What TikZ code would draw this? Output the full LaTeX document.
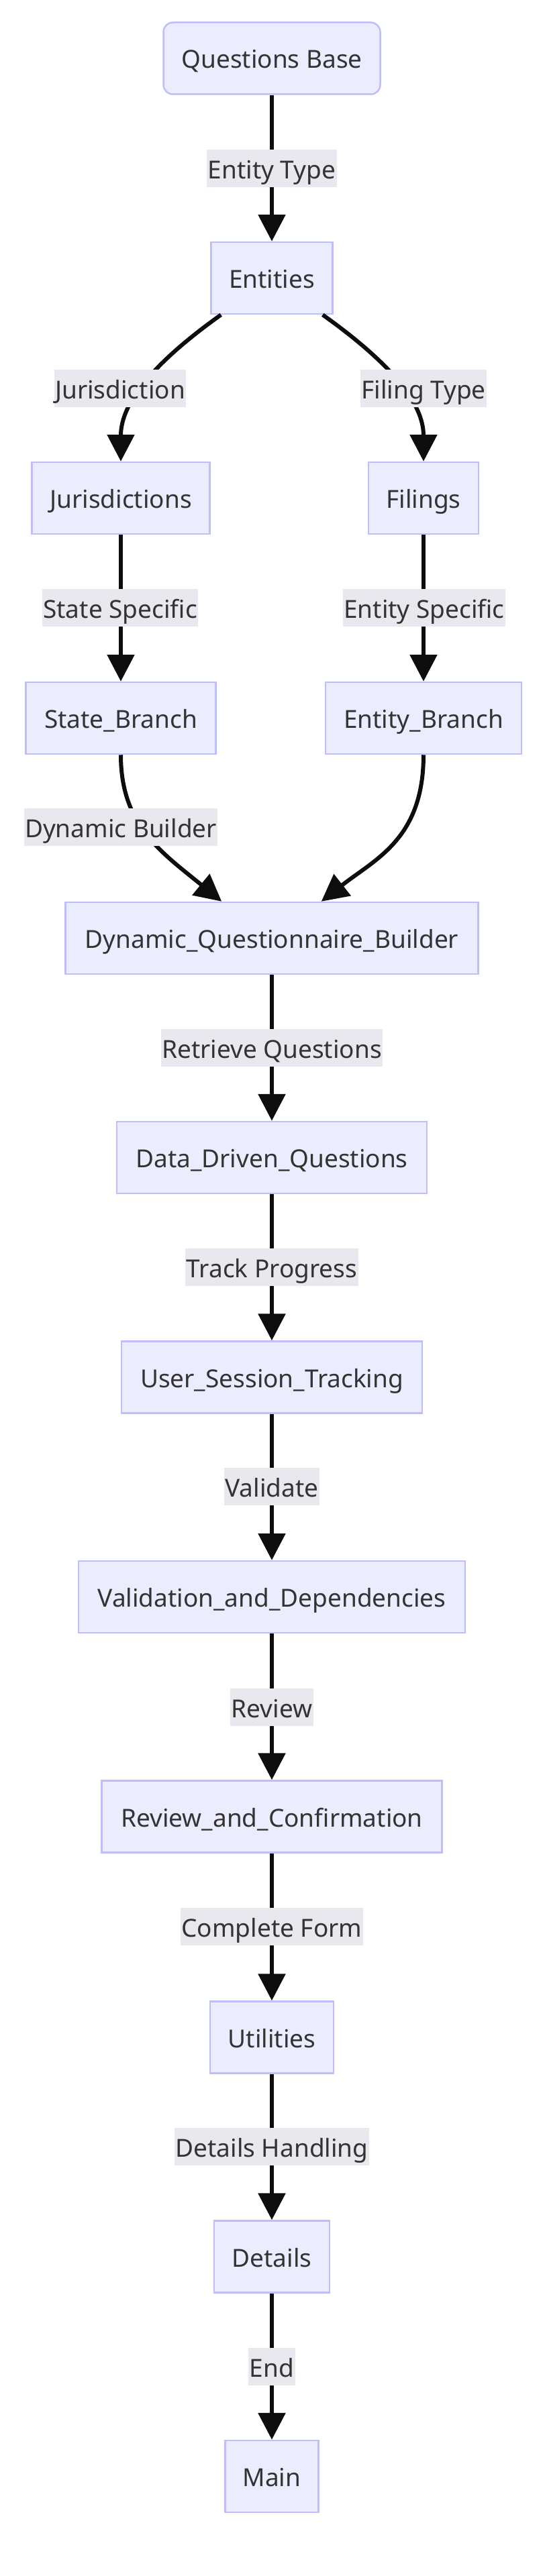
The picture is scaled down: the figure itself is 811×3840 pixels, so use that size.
\documentclass[tikz,border=0pt]{standalone}
\usepackage{fontspec}
\setmainfont{Noto Sans}
\usetikzlibrary{arrows.meta}
\definecolor{nodefill}{HTML}{ECECFF}
\definecolor{nodeline}{RGB}{190,190,248}
\definecolor{edgecol}{HTML}{0D0D0D}
\definecolor{lblfill}{HTML}{E8E8EE}
\definecolor{txt}{HTML}{333333}
\tikzset{
  box/.style={draw=nodeline, fill=nodefill, line width=2.5pt, minimum height=107pt,
    inner sep=0pt, text height=30pt, text depth=0pt,
    font=\fontsize{37}{44}\selectfont, text=txt},
  lbl/.style={fill=lblfill, inner xsep=1.5pt, inner ysep=0pt, minimum height=56pt,
    text height=30pt, text depth=0pt, font=\fontsize{37}{44}\selectfont, text=txt},
  conn/.style={draw=edgecol, line width=6pt, -{Triangle[length=40pt,width=40pt]}}
}
\begin{document}
\begin{tikzpicture}[x=1pt,y=-1pt]
\useasboundingbox (0,0) rectangle (811,3840);
% nodes
\node[box, rounded corners=14pt, minimum width=323pt] (qb) at (405,87) {Questions Base};
\node[box, minimum width=181pt] (ent) at (405,414.5) {Entities};
\node[box, minimum width=265pt] (jur) at (180,742.5) {Jurisdictions};
\node[box, minimum width=164pt] (fil) at (631,742.5) {Filings};
\node[box, minimum width=283pt] (sb) at (180,1070.5) {State\_Branch};
\node[box, minimum width=292pt] (eb) at (631,1070.5) {Entity\_Branch};
\node[box, minimum width=615pt] (dqb) at (405,1398.5) {Dynamic\_Questionnaire\_Builder};
\node[box, minimum width=462pt] (ddq) at (405,1725.5) {Data\_Driven\_Questions};
\node[box, minimum width=448pt] (ust) at (405,2053) {User\_Session\_Tracking};
\node[box, minimum width=576pt] (vad) at (405,2380.5) {Validation\_and\_Dependencies};
\node[box, minimum width=507pt] (rac) at (405,2708) {Review\_and\_Confirmation};
\node[box, minimum width=184pt] (uti) at (405,3037) {Utilities};
\node[box, minimum width=172pt] (det) at (405,3364) {Details};
\node[box, minimum width=139pt] (mn) at (405,3691.5) {Main};
% connectors
\draw[conn] (qb.south) -- (ent.north);
\draw[conn] ([xshift=16pt]ent.south west) .. controls (230,540) and (180,600) .. (jur.north);
\draw[conn] ([xshift=-16pt]ent.south east) .. controls (580,540) and (631,600) .. (fil.north);
\draw[conn] (jur.south) -- (sb.north);
\draw[conn] (fil.south) -- (eb.north);
\draw[conn] (sb.south) .. controls (180,1230) and (240,1270) .. ([xshift=234pt]dqb.north west);
\draw[conn] (eb.south) .. controls (631,1250) and (560,1280) .. ([xshift=-235pt]dqb.north east);
\draw[conn] (dqb.south) -- (ddq.north);
\draw[conn] (ddq.south) -- (ust.north);
\draw[conn] (ust.south) -- (vad.north);
\draw[conn] (vad.south) -- (rac.north);
\draw[conn] (rac.south) -- (uti.north);
\draw[conn] (uti.south) -- (det.north);
\draw[conn] (det.south) -- (mn.north);
% edge labels
\node[lbl] (l1) at (405,251) {Entity Type};
\node[lbl] (l2) at (179,579) {Jurisdiction};
\node[lbl] (l3) at (631,579) {Filing Type};
\node[lbl] (l4) at (179,906) {State Specific};
\node[lbl] (l5) at (632,906) {Entity Specific};
\node[lbl] (l6) at (180,1233) {Dynamic Builder};
\node[lbl] (l7) at (405,1562) {Retrieve Questions};
\node[lbl] (l8) at (405,1889) {Track Progress};
\node[lbl] (l9) at (405,2216) {Validate};
\node[lbl] (l10) at (405,2545) {Review};
\node[lbl] (l11) at (405,2872) {Complete Form};
\node[lbl] (l12) at (405,3200) {Details Handling};
\node[lbl] (l13) at (405,3528) {End};
\end{tikzpicture}
\end{document}
